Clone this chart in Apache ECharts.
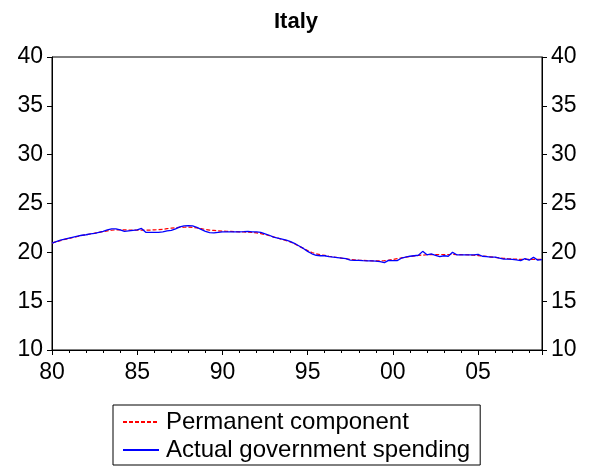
<!DOCTYPE html>
<html>
<head>
<meta charset="utf-8">
<script src="https://cdn.jsdelivr.net/npm/echarts@6/dist/echarts.min.js"></script>
<style>html,body{margin:0;padding:0;background:#fff;}#c{width:592px;height:468px;}</style>
</head>
<body>
<div id="c"></div>
<script>
// Quarterly observations, 1980Q1 .. 2008Q4
var startYear = 1980;
var permanent = [
  20.95, 21.08, 21.2, 21.32,
  21.42, 21.52, 21.62, 21.72,
  21.8, 21.88, 21.96, 22.04,
  22.12, 22.2, 22.26, 22.3,
  22.3, 22.3, 22.28, 22.28,
  22.28, 22.28, 22.28, 22.28,
  22.3, 22.32, 22.36, 22.42,
  22.48, 22.52, 22.55, 22.57,
  22.58, 22.56, 22.5, 22.42,
  22.34, 22.28, 22.24, 22.2,
  22.18, 22.16, 22.14, 22.12,
  22.1, 22.08, 22.06, 22.03,
  22.0, 21.92, 21.82, 21.7,
  21.58, 21.45, 21.32, 21.2,
  21.05, 20.85, 20.62, 20.4,
  20.18, 19.98, 19.85, 19.76,
  19.68, 19.6, 19.53, 19.47,
  19.4, 19.34, 19.28, 19.24,
  19.2, 19.17, 19.15, 19.13,
  19.12, 19.12, 19.15, 19.2,
  19.27, 19.35, 19.43, 19.5,
  19.57, 19.63, 19.68, 19.72,
  19.75, 19.76, 19.77, 19.78,
  19.78, 19.78, 19.78, 19.77,
  19.76, 19.75, 19.73, 19.7,
  19.67, 19.63, 19.58, 19.53,
  19.48, 19.43, 19.39, 19.35,
  19.32, 19.3, 19.28, 19.28,
  19.28, 19.28, 19.28, 19.28
];
var actual = [
  20.95, 21.1, 21.25, 21.35,
  21.45, 21.55, 21.65, 21.75,
  21.8, 21.9, 21.95, 22.05,
  22.15, 22.3, 22.4, 22.4,
  22.3, 22.15, 22.2, 22.25,
  22.3, 22.45, 22.05, 22.05,
  22.05, 22.05, 22.1, 22.2,
  22.25, 22.4, 22.6, 22.7,
  22.72, 22.7, 22.55, 22.35,
  22.15, 22.02, 22.0, 22.05,
  22.1, 22.1, 22.1, 22.1,
  22.1, 22.12, 22.15, 22.1,
  22.1, 22.05, 21.9, 21.75,
  21.55, 21.45, 21.35, 21.25,
  21.1, 20.9, 20.65, 20.4,
  20.1, 19.85, 19.7, 19.65,
  19.65, 19.55, 19.5, 19.45,
  19.4, 19.35, 19.2, 19.18,
  19.18, 19.15, 19.13, 19.12,
  19.1, 19.05, 18.95, 19.18,
  19.15, 19.15, 19.4, 19.5,
  19.6, 19.65, 19.7, 20.1,
  19.75, 19.85, 19.7, 19.55,
  19.65, 19.6, 20.0, 19.75,
  19.75, 19.75, 19.75, 19.75,
  19.8, 19.6, 19.55, 19.5,
  19.5, 19.4, 19.3, 19.3,
  19.28, 19.22, 19.15, 19.35,
  19.2, 19.5, 19.2, 19.25
];
var seriesNames = ['Permanent component', 'Actual government spending'];
var yTicks = [10, 15, 20, 25, 30, 35, 40];
var xLabelYears = [1980, 1985, 1990, 1995, 2000, 2005];

function toPairs(arr) {
  return arr.map(function (v, i) { return [startYear + i / 4, v]; });
}
var xMax = startYear + (actual.length - 1) / 4;
var FONT = 'Liberation Sans, Arial, sans-serif';

var chart = echarts.init(document.getElementById('c'), null, {renderer: 'canvas'});
var yAxisBase = {
  type: 'value', min: yTicks[0], max: yTicks[yTicks.length - 1], interval: 5,
  splitLine: {show: false},
  axisLine: {show: true, lineStyle: {color: '#000', width: 1}},
  axisTick: {show: true, length: 5, lineStyle: {color: '#000'}},
  axisLabel: {color: '#000', fontSize: 23, fontFamily: FONT, margin: 9}
};
chart.setOption({
  animation: false,
  backgroundColor: '#fff',
  title: {
    text: 'Italy', left: 'center', top: 6,
    textStyle: {fontSize: 22, fontWeight: 'bold', color: '#000', fontFamily: FONT}
  },
  grid: {left: 52, right: 50, top: 57, bottom: 118, show: true, borderColor: '#000', borderWidth: 1, containLabel: false},
  xAxis: [{
    type: 'value', min: startYear, max: xMax, interval: 1,
    splitLine: {show: false},
    axisLine: {show: true, onZero: false, lineStyle: {color: '#000'}},
    axisTick: {show: true, length: 3, lineStyle: {color: '#000'}},
    axisLabel: {
      color: '#000', fontSize: 23, fontFamily: FONT, margin: 11, showMaxLabel: true,
      formatter: function (v) {
        if (xLabelYears.indexOf(v) < 0) return '';
        var s = String(v % 100);
        return s.length < 2 ? '0' + s : s;
      }
    }
  }, {
    type: 'value', min: startYear, max: xMax, interval: 5, position: 'bottom',
    splitLine: {show: false},
    axisLine: {show: false, onZero: false},
    axisTick: {show: true, length: 5, lineStyle: {color: '#000'}},
    axisLabel: {show: false}
  }],
  yAxis: [
    Object.assign({}, yAxisBase, {position: 'left'}),
    Object.assign({}, yAxisBase, {position: 'right'})
  ],
  legend: {
    left: 113, top: 405, width: 367, orient: 'vertical',
    backgroundColor: '#fff', borderColor: '#000', borderWidth: 1,
    padding: [5, 10, 3, 9], itemGap: 4, itemWidth: 36, itemHeight: 14,
    itemStyle: {opacity: 0},
    textStyle: {fontSize: 24, color: '#000', fontFamily: FONT, padding: [0, 0, 0, 2]},
    data: seriesNames
  },
  series: [{
    name: seriesNames[0], type: 'line', data: toPairs(permanent),
    xAxisIndex: 0, yAxisIndex: 0,
    symbol: 'none', showSymbol: false,
    lineStyle: {color: '#ff0000', width: 1.2, type: [4, 2]},
    itemStyle: {color: '#ff0000'}
  }, {
    name: seriesNames[1], type: 'line', data: toPairs(actual),
    xAxisIndex: 0, yAxisIndex: 0,
    symbol: 'none', showSymbol: false,
    lineStyle: {color: '#0000ff', width: 1.3},
    itemStyle: {color: '#0000ff'}
  }]
});
</script>
</body>
</html>
